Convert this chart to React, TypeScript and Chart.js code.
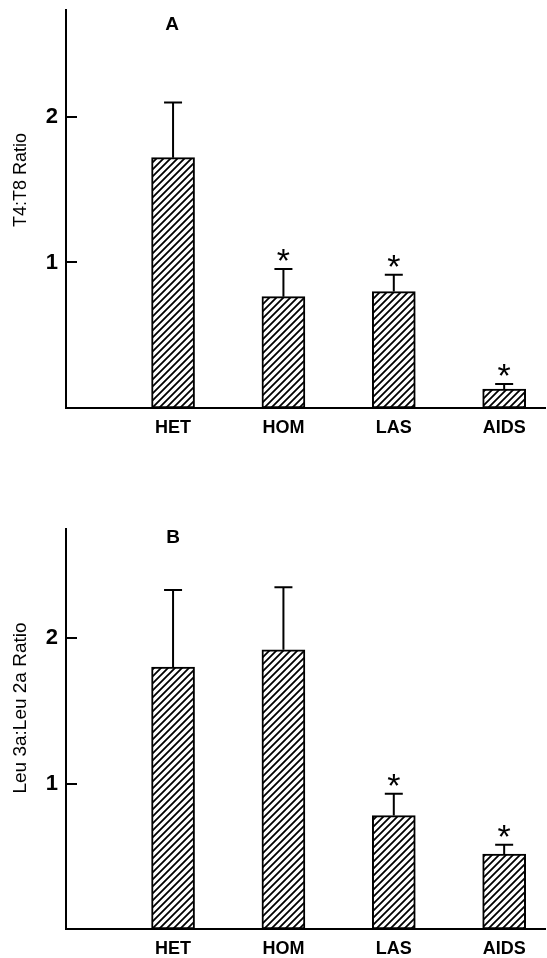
import React, { useEffect, useRef } from "react";
import { Chart, registerables } from "chart.js";

Chart.register(...registerables);

// ---- data ----
const categories = ["HET", "HOM", "LAS", "AIDS"];
const categoryPositions = [1, 2, 3, 4];
const yTicks = [1, 2];

const ratioA = [1.72, 0.765, 0.8, 0.13];
const errorTopA = [2.1, 0.955, 0.915, 0.165];
const significantA = [false, true, true, true];

const ratioB = [1.8, 1.92, 0.78, 0.515];
const errorTopB = [2.33, 2.35, 0.93, 0.58];
const significantB = [false, false, true, true];

const FONT = "'Liberation Sans', Arial, Helvetica, sans-serif";

function makeHatch(): CanvasPattern | string {
  const size = 7;
  const c = document.createElement("canvas");
  c.width = size;
  c.height = size;
  const g = c.getContext("2d");
  if (!g) return "#888";
  g.fillStyle = "#fff";
  g.fillRect(0, 0, size, size);
  g.strokeStyle = "#000";
  g.lineWidth = 1.8;
  g.beginPath();
  g.moveTo(0, size);
  g.lineTo(size, 0);
  g.moveTo(-size / 2, size / 2);
  g.lineTo(size / 2, -size / 2);
  g.moveTo(size / 2, size * 1.5);
  g.lineTo(size * 1.5, size / 2);
  g.stroke();
  return g.createPattern(c, "repeat") || "#888";
}

const overlayPlugin = {
  id: "overlay",
  afterDatasetsDraw(chart: any, _args: any, opts: any) {
    const { ctx, chartArea, scales } = chart;
    const y = scales.y;
    const meta = chart.getDatasetMeta(0);
    ctx.save();
    ctx.strokeStyle = "#000";
    ctx.fillStyle = "#000";
    // inward y ticks
    ctx.lineWidth = 2;
    for (const v of yTicks) {
      const py = Math.round(y.getPixelForValue(v));
      ctx.beginPath();
      ctx.moveTo(chartArea.left, py);
      ctx.lineTo(chartArea.left + 11, py);
      ctx.stroke();
    }
    // error bars and significance marks
    meta.data.forEach((el: any, i: number) => {
      const x = el.x;
      const top = el.y;
      const ey = y.getPixelForValue(opts.errors[i]);
      ctx.lineWidth = 2;
      ctx.beginPath();
      ctx.moveTo(x, top);
      ctx.lineTo(x, ey);
      ctx.moveTo(x - 9, ey);
      ctx.lineTo(x + 9, ey);
      ctx.stroke();
      if (opts.significant[i]) {
        ctx.font = `34px ${FONT}`;
        ctx.textAlign = "center";
        ctx.textBaseline = "alphabetic";
        const m = ctx.measureText("*");
        const asc = m.actualBoundingBoxAscent || 0;
        const desc = m.actualBoundingBoxDescent || 0;
        const cy = ey - 14;
        ctx.fillText("*", x, cy + (asc - desc) / 2);
      }
    });
    // panel letter
    ctx.font = `bold 19px ${FONT}`;
    ctx.textAlign = "center";
    ctx.textBaseline = "middle";
    ctx.fillText(opts.letter, opts.letterX, opts.letterY);
    // y-axis title
    ctx.translate(opts.titleX, opts.titleY);
    ctx.rotate(-Math.PI / 2);
    ctx.font = `${opts.titleSize}px ${FONT}`;
    ctx.textAlign = "center";
    ctx.textBaseline = "middle";
    ctx.fillText(opts.title, 0, 0);
    ctx.restore();
  },
};

function makeConfig(p: {
  values: number[];
  errors: number[];
  significant: boolean[];
  letter: string;
  letterX: number;
  letterY: number;
  title: string;
  titleX: number;
  titleY: number;
  titleSize: number;
  yMax: number;
  top: number;
  xHeight: number;
  labelPad: number;
}): any {
  const hatch = makeHatch();
  return {
    type: "bar",
    data: {
      datasets: [
        {
          data: categoryPositions.map((x, i) => ({ x, y: p.values[i] })),
          backgroundColor: hatch,
          borderColor: "#000",
          borderWidth: 2,
          borderSkipped: false,
          barThickness: 43,
        },
      ],
    },
    options: {
      responsive: false,
      animation: false,
      layout: { padding: { top: p.top, right: 2, left: 0, bottom: 0 } },
      plugins: {
        legend: { display: false },
        tooltip: { enabled: false },
        overlay: {
          errors: p.errors,
          significant: p.significant,
          letter: p.letter,
          letterX: p.letterX,
          letterY: p.letterY,
          title: p.title,
          titleX: p.titleX,
          titleY: p.titleY,
          titleSize: p.titleSize,
        },
      },
      scales: {
        x: {
          type: "linear",
          position: "bottom",
          offset: false,
          min: 0.03,
          max: 4.37,
          afterBuildTicks: (s: any) => {
            s.ticks = categoryPositions.map((v) => ({ value: v }));
          },
          afterFit: (s: any) => {
            s.height = p.xHeight;
            s.paddingLeft = 0;
            s.paddingRight = 0;
          },
          grid: { display: false, drawTicks: false, offset: false },
          border: { display: true, color: "#000", width: 2 },
          ticks: {
            autoSkip: false,
            maxRotation: 0,
            padding: p.labelPad,
            color: "#000",
            font: { family: FONT, size: 18, weight: "bold" },
            callback: (v: number) => {
              const idx = categoryPositions.indexOf(v);
              return idx >= 0 ? categories[idx] : "";
            },
          },
        },
        y: {
          type: "linear",
          min: 0,
          max: p.yMax,
          afterBuildTicks: (s: any) => {
            s.ticks = yTicks.map((v) => ({ value: v }));
          },
          afterFit: (s: any) => {
            s.width = 66;
            s.paddingTop = 0;
            s.paddingBottom = 0;
          },
          grid: { display: false, drawTicks: false },
          border: { display: true, color: "#000", width: 2 },
          ticks: {
            padding: 8,
            color: "#000",
            font: { family: FONT, size: 22, weight: "bold" },
            callback: (v: number) => String(v),
          },
        },
      },
    },
    plugins: [overlayPlugin],
  };
}

function Panel(props: { config: () => any }) {
  const ref = useRef<HTMLCanvasElement | null>(null);
  useEffect(() => {
    if (!ref.current) return;
    const chart = new Chart(ref.current, props.config());
    return () => chart.destroy();
  }, []);
  return (
    <canvas
      ref={ref}
      width={547}
      height={479}
      style={{ display: "block", width: 547, height: 479 }}
    />
  );
}

export default function App() {
  return (
    <div
      style={{
        position: "fixed",
        left: 0,
        top: 0,
        width: 547,
        height: 958,
        background: "#fff",
      }}
    >
      <Panel
        config={() =>
          makeConfig({
            values: ratioA,
            errors: errorTopA,
            significant: significantA,
            letter: "A",
            letterX: 172,
            letterY: 25,
            title: "T4:T8 Ratio",
            titleX: 21,
            titleY: 180,
            titleSize: 18,
            yMax: 2.735,
            top: 10,
            xHeight: 71,
            labelPad: 9,
          })
        }
      />
      <Panel
        config={() =>
          makeConfig({
            values: ratioB,
            errors: errorTopB,
            significant: significantB,
            letter: "B",
            letterX: 173,
            letterY: 59,
            title: "Leu 3a:Leu 2a Ratio",
            titleX: 21,
            titleY: 229,
            titleSize: 19,
            yMax: 2.75,
            top: 50,
            xHeight: 29,
            labelPad: 9,
          })
        }
      />
    </div>
  );
}
